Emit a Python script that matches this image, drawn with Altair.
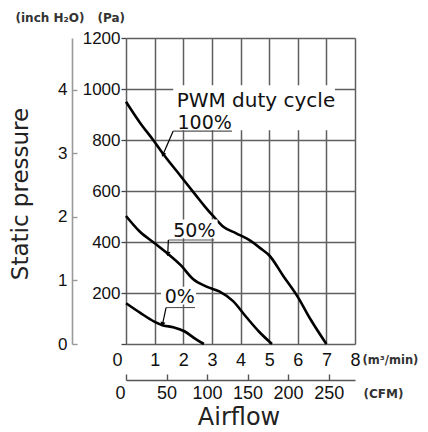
import altair as alt
import pandas as pd

# ---------------- data ----------------
flow_m3_ticks = [0, 1, 2, 3, 4, 5, 6, 7, 8]
pressure_pa_ticks = [0, 200, 400, 600, 800, 1000, 1200]
pressure_inch_ticks = [0, 1, 2, 3, 4]
flow_cfm_ticks = [0, 50, 100, 150, 200, 250]

duty_labels = ["100%", "50%", "0%"]

flow_100 = [0, 0.5, 0.95, 1.3, 1.9, 2.45, 2.75, 3.05, 3.4, 3.85, 4.3, 4.7, 5.0, 5.5, 6.0, 6.45, 7.0]
pres_100 = [950, 866, 800, 745, 660, 582, 540, 501, 460, 434, 408, 375, 348, 266, 185, 96, 0]
flow_50 = [0, 0.47, 0.99, 1.46, 1.92, 2.33, 2.79, 3.26, 3.74, 4.2, 4.65, 5.1]
pres_50 = [502, 442, 396, 354, 308, 256, 226, 206, 168, 106, 48, 0]
flow_0 = [0, 0.5, 0.97, 1.3, 1.65, 2.04, 2.45, 2.72]
pres_0 = [160, 122, 89, 73, 66, 50, 18, 0]

PA_PER_INCH = 249.089
M3MIN_PER_CFM = 0.0283168

# annotation anchors, in data units (m3/min, Pa)
heading_text = ["PWM duty cycle"]
heading_flow = [1.77]
heading_pres = [930]
label_flow = [1.8, 1.65, 1.35]
label_pres = [845, 421, 160]
underline_flow_start = [1.65, 1.48, 1.4]
underline_flow_end = [3.7, 3.08, 2.41]
underline_pres = [835, 408, 143]
arrow_flow = [1.30, 1.46, 1.28]
arrow_pres = [745, 356, 80]
arrow_angle = [203, 186, 195]
box_flow_start = [1.65, 1.54, 1.22]
box_flow_end = [7.3, 3.2, 2.45]
box_pres_top = [1015, 488, 225]
box_pres_bottom = [838, 415, 155]

# ---------------- tables ----------------
curves = pd.concat([
    pd.DataFrame({"duty": "100%", "flow": flow_100, "pres": pres_100}),
    pd.DataFrame({"duty": "50%", "flow": flow_50, "pres": pres_50}),
    pd.DataFrame({"duty": "0%", "flow": flow_0, "pres": pres_0}),
])
labels = pd.DataFrame({
    "text": duty_labels, "flow": label_flow, "pres": label_pres,
    "u0": underline_flow_start, "u1": underline_flow_end, "upres": underline_pres,
    "af": arrow_flow, "ap": arrow_pres, "ang": arrow_angle,
    "b0": box_flow_start, "b1": box_flow_end, "bt": box_pres_top, "bb": box_pres_bottom,
})
heading = pd.DataFrame({"text": heading_text, "flow": heading_flow, "pres": heading_pres})
aux = pd.DataFrame({"cfm": flow_cfm_ticks[:1], "inch": pressure_inch_ticks[:1]})

NUM = "Liberation Sans"
SANS = "DejaVu Sans"
GRID = "#5f5f5f"
UNIT = dict(titleFont=SANS, titleFontSize=12, titleFontWeight="bold", titleColor="#333333", titleAngle=0)


def xs():
    return alt.Scale(domain=[0, 8], nice=False, zero=False)


def ys():
    return alt.Scale(domain=[0, 1200], nice=False, zero=False)


x_axis = alt.Axis(
    values=flow_m3_ticks, format="d", grid=True, gridColor=GRID, gridWidth=1.5,
    ticks=False, domain=False, labelFont=NUM, labelFontSize=18, labelColor="#111111",
    labelPadding=7, labelAngle=0, labelFlush=False, labelOverlap=False,
    labelOffset={"condition": {"test": "datum.value === 0", "value": -9}, "value": 0},
    title="(m³/min)", titleAlign="left", titleBaseline="middle", titleX=236, titleY=16,
    **{**UNIT, "titleFontSize": 11.5},
)
y_axis = alt.Axis(
    values=pressure_pa_ticks, format="d", grid=True, gridColor=GRID, gridWidth=1.5,
    ticks=True, tickSize=5, tickColor="#444444", tickWidth=1.3, domain=False,
    labelFont=NUM, labelFontSize=17, labelColor="#111111", labelPadding=1,
    labelOverlap=False, labelExpr="datum.value === 0 ? '' : datum.label",
    title="(Pa)", titleAlign="left", titleBaseline="alphabetic", titleX=-29, titleY=-17, **UNIT,
)
cfm_axis = alt.Axis(
    orient="top", offset=-342, values=flow_cfm_ticks, format="d", grid=False,
    domainColor="#555555", domainWidth=1.4, tickSize=6, tickColor="#555555", tickWidth=1.4,
    labelFont=NUM, labelFontSize=18, labelColor="#111111", labelBaseline="top", labelPadding=-10,
    labelAngle=0, labelFlush=False, labelOverlap=False,
    labelOffset={"condition": {"test": "datum.value === 0", "value": -6}, "value": 0},
    title="(CFM)", titleAlign="left", titleBaseline="middle", titleX=237, titleY=13, **UNIT,
)
inch_axis = alt.Axis(
    orient="right", offset=-283, values=pressure_inch_ticks, format="d", grid=False,
    domainColor="#999999", domainWidth=1.6, tickSize=5, tickColor="#999999", tickWidth=1.4,
    labelFont=NUM, labelFontSize=17, labelColor="#111111", labelAlign="right", labelPadding=-10,
    labelBaseline="middle", labelOverlap=False,
    title="(inch H₂O)", titleAlign="left", titleBaseline="alphabetic", titleX=-57, titleY=-17, **UNIT,
)


def X(f, **k):
    return alt.X(f, type="quantitative", scale=xs(), **k)


def Y(f, **k):
    return alt.Y(f, type="quantitative", scale=ys(), **k)


lines = alt.Chart(curves).mark_line(color="black", strokeWidth=2.6, interpolate="monotone").encode(
    x=X("flow", axis=x_axis), y=Y("pres", axis=y_axis), detail="duty:N"
)
aux_layer = alt.Chart(aux).mark_point(opacity=0).encode(
    x=alt.X("cfm:Q", scale=alt.Scale(domain=[0, 8 / M3MIN_PER_CFM], nice=False, zero=False), axis=cfm_axis),
    y=alt.Y("inch:Q", scale=alt.Scale(domain=[0, 1200 / PA_PER_INCH], nice=False, zero=False), axis=inch_axis),
)
boxes = alt.Chart(labels).mark_rect(fill="white").encode(
    x=X("b0", axis=None), x2="b1", y=Y("bt", axis=None), y2="bb"
)
underlines = alt.Chart(labels).mark_rule(color="#555555", strokeWidth=1.1).encode(
    x=X("u0", axis=None), x2="u1", y=Y("upres", axis=None)
)
leaders = alt.Chart(labels).mark_rule(color="black", strokeWidth=1.2).encode(
    x=X("u0", axis=None), x2="af", y=Y("upres", axis=None), y2="ap"
)
arrows = alt.Chart(labels).mark_point(shape="triangle", filled=True, color="black", size=28, opacity=1).encode(
    x=X("af", axis=None), y=Y("ap", axis=None), angle=alt.Angle("ang:Q", scale=None)
)
duty_text = alt.Chart(labels).mark_text(align="left", baseline="alphabetic", font=SANS, fontSize=19, color="#111111").encode(
    x=X("flow", axis=None), y=Y("pres", axis=None), text="text:N"
)
head_text = alt.Chart(heading).mark_text(align="left", baseline="alphabetic", font=SANS, fontSize=20, color="#111111").encode(
    x=X("flow", axis=None), y=Y("pres", axis=None), text="text:N"
)
ylab = alt.Chart(pd.DataFrame({"t": ["Static pressure"]})).mark_text(
    angle=270, align="center", baseline="alphabetic", font=SANS, fontSize=23, color="#222222"
).encode(x=alt.value(-98), y=alt.value(156), text="t:N")
xlab = alt.Chart(pd.DataFrame({"t": ["Airflow"]})).mark_text(
    align="center", baseline="alphabetic", font=SANS, fontSize=24, color="#222222"
).encode(x=alt.value(113), y=alt.value(387), text="t:N")

chart = alt.layer(
    lines, aux_layer, boxes, underlines, leaders, arrows, duty_text, head_text, ylab, xlab
).resolve_scale(x="independent", y="independent").properties(
    width=229, height=306,
    autosize=alt.AutoSizeParams(type="none"),
    padding={"left": 118, "top": 30, "right": 65, "bottom": 88},
).configure_view(stroke=None)

chart.save("out.html", embed_options={"renderer": "svg", "actions": False})
